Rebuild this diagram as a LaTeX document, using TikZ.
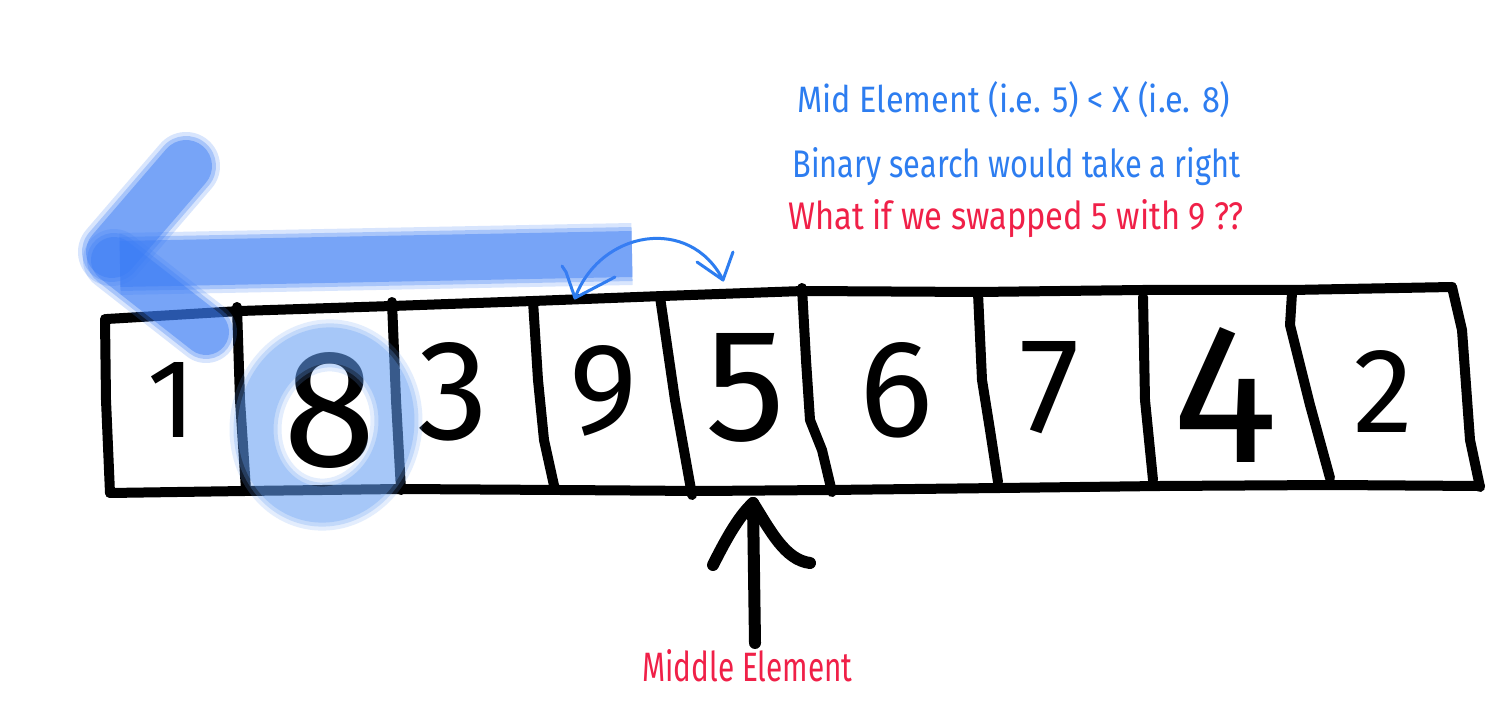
\documentclass[tikz,border=0pt]{standalone}
\usepackage{fontspec}
\setmainfont{Fira Sans}
\usepackage{graphicx}
\definecolor{tblue}{RGB}{45,125,240}
\definecolor{tred}{RGB}{240,32,72}
\definecolor{mblue}{RGB}{60,125,245}
\definecolor{rblue}{RGB}{100,160,245}
\tikzset{
  boxline/.style={line width=5pt, black, line cap=round, line join=round},
  digit/.style={inner sep=0pt, anchor=center, text=black},
  bluetext/.style={inner sep=0pt, anchor=base west, text=tblue},
  redtext/.style={inner sep=0pt, anchor=base west, text=tred},
  swaparrow/.style={line width=1.5pt, tblue, line cap=round, line join=round},
  midarrow/.style={line width=6pt, black, line cap=round, line join=round},
  marker/.style={mblue, line width=#1},
  ringmarker/.style={rblue, line width=#1}
}
\begin{document}
\begin{tikzpicture}[x=0.5pt,y=-0.5pt]
\useasboundingbox (0,0) rectangle (1488,710);
\fill[white] (0,0) rectangle (1488,710);

% top edge of the array
\draw[boxline] (107,319) -- (240,311) -- (392,306) -- (533,301) -- (663,296)
  -- (803,291) -- (978,292) -- (1143,290) -- (1292,290) -- (1452,287);
% bottom edge
\draw[boxline] (110,493) -- (245,491) -- (400,489) -- (560,490) -- (700,491)
  -- (830,490) -- (1000,488) -- (1160,486) -- (1330,485) -- (1480,486);
% left and right edges
\draw[boxline] (105,319) -- (106,400) -- (110,493);
\draw[boxline] (1452,287) -- (1462,330) -- (1470,440) -- (1480,487);
% dividers
\draw[boxline] (237,307) -- (240,400) -- (246,490);
\draw[boxline] (392,302) -- (396,400) -- (401,490);
\draw[boxline] (533,301) -- (538,380) -- (544,440) -- (555,490);
\draw[boxline] (660,297) -- (675,400) -- (692,495);
\draw[boxline] (802,288) -- (806,360) -- (810,420) -- (822,450) -- (832,492);
\draw[boxline] (978,293) -- (982,380) -- (990,430) -- (998,482);
\draw[boxline] (1143,297) -- (1145,400) -- (1153,480);
\draw[boxline] (1292,293) -- (1290,325) -- (1310,405) -- (1330,478);

% digits
\node[digit] (n1) at (172,400) {\resizebox{!}{37.5pt}{1}};
\node[digit] (n8) at (330,410) {\resizebox{!}{57pt}{8}};
\node[digit] (n3) at (453,392) {\resizebox{!}{48.5pt}{3}};
\node[digit] (n9) at (604,391) {\resizebox{!}{44pt}{9}};
\node[digit] (n5) at (746,388) {\resizebox{!}{53.5pt}{5}};
\node[digit] (n6) at (896,390) {\resizebox{!}{47pt}{6}};
\node[digit] (n7) at (1050,388) {\resizebox{!}{45.5pt}{7}};
\node[digit] (n4) at (1225,395) {\resizebox{!}{67.5pt}{4}};
\node[digit] (n2) at (1383,391) {\resizebox{!}{41pt}{2}};

% middle element arrow
\coordinate (mtip) at (753,503);
\coordinate (mbase) at (755,643);
\draw[midarrow] (mbase) -- (mtip);
\draw[midarrow] (713,565) .. controls (728,535) and (740,515) .. (mtip)
  .. controls (770,530) and (785,560) .. (810,563);
\node[redtext] (mid) at (642,682) {\resizebox{105pt}{16pt}{Middle Element}};

% swap arrow
\draw[swaparrow] (575,298) .. controls (600,230) and (690,215) .. (723,280);
\draw[swaparrow] (562,266) -- (566,272) -- (575,298) -- (615,277);
\draw[swaparrow] (697,262) -- (723,280) -- (733,252);

% big blue marker arrow (soft edges)
\foreach \w/\o in {62/0.2,54/0.3,46/0.45}{
  \draw[marker=\w*0.5pt, opacity=\o, line cap=butt] (632,254) -- (120,264);
  \draw[marker=(\w+6)*0.5pt, opacity=\o, line cap=round] (112,252) -- (186,166);
  \draw[marker=\w*0.5pt, opacity=\o, line cap=round] (114,260) -- (206,332);
}
% ring around 8
\foreach \w/\o in {52/0.18,44/0.25,36/0.3}{
  \draw[ringmarker=\w*0.5pt, opacity=\o] (326,425) ellipse [x radius=70, y radius=80, rotate=-12];
}

% texts
\node[bluetext] (t1) at (797,113) {\resizebox{216.5pt}{15.5pt}{Mid Element (i.e. 5) < X (i.e. 8)}};
\node[bluetext] (t2) at (792,178) {\resizebox{224pt}{15pt}{Binary search would take a right}};
\node[redtext] (t3) at (788,230) {\resizebox{227.5pt}{15pt}{What if we swapped 5 with 9 ??}};
\end{tikzpicture}
\end{document}
